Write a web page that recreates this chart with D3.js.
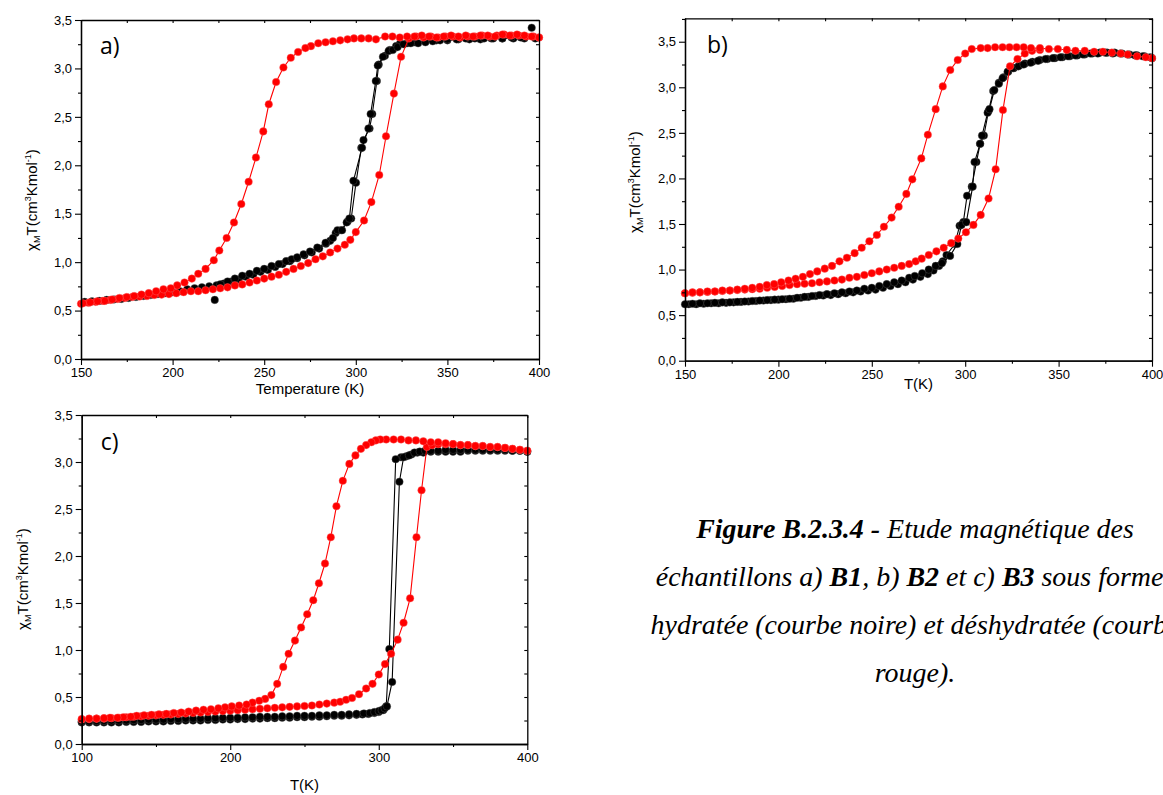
<!DOCTYPE html>
<html><head><meta charset="utf-8">
<script src="https://cdn.jsdelivr.net/npm/d3@7"></script>
<style>
body{margin:0;background:#fff;}
svg{display:block;}
</style></head>
<body>
<svg id="chart" width="1163" height="795"></svg>
<script>
// ---------- DATA (T in K, chiM*T in cm3 K mol-1) ----------
// Panel a) B1
const aBlackHeat = [[226,0.77],[230,0.80],[234,0.83],[238,0.86],[242,0.88],[246,0.91],[250,0.93],[254,0.96],[258,0.98],[262,1.01],[265,1.03],[268,1.05],[271.5,1.08],[275,1.11],[279,1.15],[283.5,1.20],[287.5,1.25],[290,1.33],[292.5,1.33],[295,1.41],[296.5,1.45],[298.7,1.84],[303.4,2.18],[306.9,2.38],[308.1,2.53],[310.9,2.87],[312,3.03],[314.8,3.12],[317.9,3.18],[320.2,3.19],[322.8,3.22],[326,3.25],[330,3.26],[334,3.26],[338,3.27],[342,3.28],[346,3.29],[350,3.30],[355,3.30],[360,3.31],[365,3.31],[370,3.31],[375,3.31],[380,3.31],[385,3.32],[390,3.32]];
const aBlackCool = [[398,3.31],[392,3.31],[386,3.31],[380,3.31],[374,3.31],[368,3.30],[362,3.30],[356,3.30],[350,3.29],[344,3.29],[338,3.28],[332,3.27],[328,3.26],[324.2,3.26],[322,3.23],[318.5,3.19],[315.9,3.13],[312.5,3.04],[311.5,2.87],[309,2.53],[307.5,2.38],[304.2,2.26],[303,2.18],[300.1,1.82],[297.5,1.45],[295.5,1.42],[292,1.33],[289,1.30],[286,1.22],[283.7,1.19],[280,1.14],[276,1.10],[272,1.07],[268,1.04],[264,1.01],[260,0.98],[256,0.95],[252,0.92],[248,0.90],[244,0.87],[240,0.85],[236,0.82],[232,0.80],[228,0.78],[224,0.76],[220,0.75],[216,0.74],[212,0.73],[208,0.72],[204,0.70],[200,0.69],[196,0.68],[192,0.67],[188,0.66],[184,0.65],[180,0.64],[176,0.63],[172,0.62],[168,0.615],[164,0.61],[160,0.60],[156,0.595],[152,0.59]];
const aBlackSingle = [[223,0.61],[396,3.42]];
const aRedHeat = [[150,0.57],[154,0.58],[158,0.59],[162,0.60],[166,0.61],[170,0.62],[174,0.63],[178,0.64],[182,0.645],[186,0.65],[190,0.66],[194,0.665],[198,0.67],[202,0.68],[206,0.69],[210,0.70],[214,0.70],[218,0.71],[222,0.72],[226,0.73],[230,0.74],[234,0.76],[238,0.77],[242,0.79],[246,0.81],[250,0.83],[254,0.85],[258,0.87],[262,0.90],[266,0.93],[270,0.96],[274,0.99],[278,1.03],[282,1.06],[286,1.10],[290,1.14],[294,1.18],[297,1.23],[300,1.31],[304.5,1.43],[308.5,1.62],[312.8,1.90],[316.5,2.30],[320.8,2.74],[324.7,3.12],[329,3.31],[333,3.33],[337,3.32],[341,3.33],[345,3.32],[349,3.33],[353,3.33],[357,3.32],[361,3.33],[365,3.33],[369,3.34],[373,3.33],[377,3.34],[381,3.35],[385,3.34],[389,3.34],[393,3.33],[397,3.33],[400,3.32]];
const aRedCool = [[400,3.32],[396,3.33],[392,3.34],[388,3.35],[384,3.34],[380,3.35],[376,3.33],[372,3.34],[368,3.34],[364,3.33],[360,3.34],[356,3.33],[352,3.34],[348,3.33],[344,3.32],[340,3.33],[336,3.34],[332,3.33],[328,3.33],[324,3.32],[320,3.33],[316,3.33],[311,3.30],[307,3.31],[303,3.31],[299,3.31],[295.5,3.30],[291.5,3.29],[287.5,3.28],[283.5,3.27],[279.5,3.26],[275.5,3.23],[272.5,3.21],[268.5,3.17],[264.5,3.11],[260.5,3.01],[256.5,2.86],[252.5,2.63],[249.5,2.35],[245.5,2.08],[241.5,1.83],[237.5,1.60],[233.5,1.41],[229.5,1.25],[225.5,1.12],[222.5,1.02],[218,0.93],[214,0.88],[210.5,0.83],[206.5,0.79],[202.5,0.76],[199,0.73],[195,0.72],[191,0.70],[187,0.68],[183,0.665],[179,0.65],[175,0.64],[171,0.63],[167,0.615],[163,0.60],[159,0.595],[155,0.585],[151,0.575]];

// Panel b) B2
const bBlackHeat = [[150,0.62],[154,0.625],[158,0.63],[162,0.63],[166,0.635],[170,0.64],[174,0.64],[178,0.645],[182,0.65],[186,0.655],[190,0.66],[194,0.665],[198,0.67],[202,0.675],[206,0.68],[210,0.69],[214,0.70],[218,0.71],[222,0.72],[226,0.73],[230,0.74],[234,0.75],[238,0.76],[242,0.77],[246,0.79],[250,0.80],[254,0.82],[258,0.84],[262,0.86],[266,0.88],[270,0.91],[273,0.93],[277,0.96],[280.5,1.00],[284.2,1.04],[287.5,1.07],[291.9,1.15],[295.8,1.28],[298,1.49],[300.6,1.52],[304,1.91],[305,2.18],[308,2.38],[309,2.47],[312,2.72],[313,2.76],[315.6,2.97],[318,3.04],[320,3.10],[322.7,3.17],[325.6,3.21],[328.5,3.23],[331.3,3.25],[335,3.27],[339,3.29],[343,3.31],[347,3.32],[351,3.33],[355,3.34],[359,3.35],[363,3.36],[367,3.37],[371,3.37],[375,3.38],[379,3.37],[383,3.37],[387,3.36],[391,3.35],[395,3.34],[399,3.33]];
const bBlackCool = [[400,3.32],[396,3.34],[392,3.35],[388,3.36],[384,3.37],[380,3.38],[376,3.38],[372,3.38],[368,3.37],[364,3.36],[360,3.35],[356,3.34],[352,3.33],[348,3.32],[344,3.31],[340,3.30],[336,3.28],[332,3.26],[329,3.24],[326,3.21],[323,3.17],[320.5,3.11],[318,3.05],[315,2.96],[312.5,2.74],[310,2.47],[308,2.38],[306,2.18],[303.5,1.91],[301,1.81],[299,1.52],[297,1.48],[294.5,1.28],[290,1.16],[288,1.09],[286,1.04],[283,0.99],[280,0.95],[276,0.92],[272,0.89],[268,0.86],[264,0.84],[260,0.82],[256,0.80],[252,0.78],[248,0.77],[244,0.76],[240,0.75],[236,0.74],[232,0.73],[228,0.72],[224,0.715],[220,0.71],[216,0.70],[212,0.69],[208,0.68],[204,0.675],[200,0.67],[196,0.665],[192,0.66],[188,0.655],[184,0.65],[180,0.645],[176,0.64],[172,0.635],[168,0.63],[164,0.63],[160,0.625],[156,0.62],[152,0.62]];
const bRedHeat = [[150,0.74],[154,0.745],[158,0.75],[162,0.755],[166,0.76],[170,0.765],[174,0.77],[178,0.775],[182,0.78],[186,0.785],[190,0.79],[194,0.80],[198,0.81],[202,0.82],[206,0.83],[210,0.84],[214,0.845],[218,0.85],[222,0.86],[226,0.87],[230,0.88],[234,0.89],[238,0.91],[242,0.92],[246,0.94],[250,0.96],[254,0.98],[258,1.00],[262,1.02],[266,1.04],[270,1.06],[273.5,1.09],[276.7,1.12],[280.5,1.16],[284.6,1.20],[288.5,1.24],[292.5,1.29],[296.3,1.34],[300.4,1.41],[304.4,1.49],[308.3,1.60],[312.5,1.78],[316.3,2.10],[320.2,2.75],[324,3.23],[328,3.31],[331.9,3.37],[335.8,3.40],[340,3.41]];
const bRedCool = [[400,3.32],[396.7,3.33],[392,3.34],[387,3.36],[383.3,3.37],[378.5,3.38],[373.7,3.39],[369,3.39],[364,3.40],[359,3.40],[354.4,3.41],[349.6,3.42],[344.8,3.42],[340,3.43],[335.2,3.43],[331.3,3.44],[327.5,3.44],[323.7,3.44],[320,3.44],[316,3.44],[312,3.43],[308.3,3.43],[303.5,3.42],[300,3.37],[296,3.30],[292,3.19],[288,3.01],[284.2,2.76],[280,2.48],[276.5,2.22],[271.7,1.99],[268.5,1.83],[264.4,1.69],[260.6,1.57],[256.5,1.47],[252.7,1.38],[248.7,1.31],[244.6,1.24],[240.8,1.18],[236.7,1.13],[232.7,1.09],[228.7,1.04],[224.8,1.01],[220.8,0.98],[216.9,0.95],[213.1,0.92],[209.2,0.90],[205.4,0.88],[201.5,0.86],[197.7,0.84],[193.8,0.83],[190,0.81],[186,0.80],[182,0.79],[178,0.78],[174,0.77],[170,0.77],[166,0.76],[162,0.76],[158,0.75],[154,0.75],[150,0.74]];

// Panel c) B3
const cBlackHeat = [[100,0.24],[105,0.24],[110,0.245],[115,0.245],[120,0.25],[125,0.25],[130,0.25],[135,0.255],[140,0.255],[145,0.26],[150,0.26],[155,0.26],[160,0.265],[165,0.265],[170,0.27],[175,0.27],[180,0.27],[185,0.275],[190,0.275],[195,0.28],[200,0.28],[205,0.28],[210,0.285],[215,0.285],[220,0.29],[225,0.29],[230,0.29],[235,0.295],[240,0.295],[245,0.30],[250,0.30],[255,0.30],[260,0.305],[265,0.305],[270,0.31],[275,0.31],[280,0.315],[285,0.32],[290,0.325],[294,0.33],[297,0.34],[300,0.35],[302,0.36],[304,0.38],[305.5,0.40],[309,0.66],[313.9,2.79],[316.7,3.05],[320.4,3.07],[324,3.10],[327.6,3.11],[331.2,3.12],[335,3.12],[340,3.12],[345,3.13],[350,3.13],[355,3.13],[360,3.13],[365,3.13],[370,3.13],[375,3.13],[380,3.13],[385,3.13],[390,3.12],[395,3.12],[400,3.11]];
const cBlackCool = [[400,3.11],[395,3.12],[390,3.12],[385,3.12],[380,3.12],[375,3.12],[370,3.12],[365,3.12],[360,3.12],[355,3.11],[350,3.11],[345,3.11],[340,3.11],[335,3.11],[330,3.10],[326,3.10],[322,3.08],[318.5,3.06],[315,3.05],[311.4,3.03],[307.1,1.01],[305,0.40],[303,0.36],[300,0.34],[297,0.33],[293,0.32],[289,0.315],[285,0.31],[280,0.305],[275,0.30],[270,0.30],[265,0.295],[260,0.29],[255,0.29],[250,0.285],[245,0.285],[240,0.28],[235,0.28],[230,0.275],[225,0.275],[220,0.27],[215,0.27],[210,0.265],[205,0.265],[200,0.26],[195,0.26],[190,0.255],[185,0.255],[180,0.25],[175,0.25],[170,0.25],[165,0.245],[160,0.245],[155,0.24],[150,0.24],[145,0.24],[140,0.235],[135,0.235],[130,0.235],[125,0.23],[120,0.23],[115,0.23],[110,0.23],[105,0.23],[100,0.23]];
const cRedHeat = [[100,0.26],[105,0.265],[110,0.27],[115,0.27],[120,0.275],[125,0.28],[130,0.285],[135,0.29],[140,0.295],[145,0.30],[150,0.305],[155,0.31],[160,0.315],[165,0.32],[170,0.325],[175,0.33],[180,0.335],[185,0.34],[190,0.345],[195,0.35],[200,0.355],[205,0.36],[210,0.365],[215,0.37],[220,0.375],[225,0.38],[230,0.385],[235,0.39],[240,0.395],[245,0.40],[250,0.405],[255,0.41],[260,0.42],[265,0.43],[270,0.44],[274,0.45],[278,0.47],[282,0.49],[286.7,0.53],[291.5,0.59],[295.8,0.64],[300,0.74],[304.2,0.85],[308.3,0.96],[312.7,1.11],[316.7,1.29],[321.1,1.55],[325.4,2.20],[328.8,2.70],[332.4,3.16],[336,3.18],[340,3.19],[345,3.19],[350,3.19],[355,3.18],[360,3.18],[365,3.17],[370,3.17],[375,3.16],[380,3.16],[385,3.15],[390,3.14],[395,3.13],[400,3.12]];
const cRedCool = [[400,3.12],[395,3.13],[390,3.14],[385,3.15],[380,3.16],[375,3.16],[370,3.17],[365,3.17],[360,3.18],[355,3.18],[350,3.19],[345,3.20],[340,3.21],[335,3.21],[330,3.22],[325,3.23],[320,3.23],[315,3.24],[310,3.24],[305,3.24],[301,3.24],[298,3.23],[295,3.21],[291.5,3.18],[288,3.14],[284.3,3.07],[280.2,2.98],[275.8,2.80],[271.5,2.53],[267.7,2.20],[263.8,1.92],[259.7,1.71],[255.9,1.53],[251.8,1.38],[247.7,1.24],[243.6,1.10],[239.3,0.96],[235.7,0.82],[231.6,0.64],[227.7,0.52],[223.5,0.48],[219.5,0.46],[215,0.44],[211,0.42],[206,0.41],[201,0.40],[196.5,0.39],[192,0.38],[187,0.37],[182,0.365],[177,0.355],[172,0.345],[167,0.335],[162,0.33],[157,0.32],[152,0.315],[147,0.31],[142,0.305],[137,0.30],[133,0.29],[128,0.285],[124,0.28],[119,0.28],[115,0.275],[110,0.27],[105,0.27],[100,0.265]];

// Tick values
const xTicksAB = [150,200,250,300,350,400];
const xMinorAB = [175,225,275,325,375];
const xTicksC = [100,200,300,400];
const xMinorC = [150,250,350];
const yTicks = [0,0.5,1,1.5,2,2.5,3,3.5];
const yMinor = [0.25,0.75,1.25,1.75,2.25,2.75,3.25];
const yMinorB = [0.25,0.75,1.25,1.75,2.25,2.75,3.25,3.75];

const panelLabels = ["a)","b)","c)"];
const xTitles = ["Temperature (K)","T(K)","T(K)"];

// ---------- DRAWING ----------
const svg = d3.select("#chart");
svg.append("rect").attr("width",1163).attr("height",795).attr("fill","#fff");
const SANS = "Liberation Sans";
const fmt = d => d3.format(".1f")(d).replace(".", ",");

function panel(cfg) {
  const g = svg.append("g");
  const x = d3.scaleLinear().domain(cfg.xd).range([cfg.l, cfg.r]);
  const y = d3.scaleLinear().domain(cfg.yd).range([cfg.b, cfg.t]);
  const line = d3.line().x(d => x(d[0])).y(d => y(d[1]));

  const drawSeries = (data, color, withLine) => {
    if (withLine) g.append("path").datum(data).attr("d", line)
      .attr("fill","none").attr("stroke", color).attr("stroke-width", 1.1);
    g.append("g").selectAll("circle").data(data).join("circle")
      .attr("cx", d => x(d[0])).attr("cy", d => y(d[1])).attr("r", 3.8)
      .attr("fill", color).attr("stroke", color === "#000" ? "#555" : "#ff6a6a").attr("stroke-width", 0.4);
  };
  cfg.black.forEach(s => drawSeries(s, "#000", true));
  if (cfg.blackSingle) drawSeries(cfg.blackSingle, "#000", false);
  cfg.red.forEach(s => drawSeries(s, "#ff0000", true));

  const ax = (gen, tr) => {
    const a = g.append("g").attr("transform", tr).call(gen);
    a.selectAll("path.domain").attr("stroke","#000").attr("stroke-width",1.3);
    a.selectAll(".tick line").attr("stroke","#000").attr("stroke-width",1.1);
    a.selectAll("text").attr("font-family", SANS).attr("font-size", 13).attr("fill","#000");
    return a;
  };
  ax(d3.axisBottom(x).tickValues(cfg.xMajor).tickSize(6).tickSizeOuter(0).tickPadding(3).tickFormat(d => d), `translate(0,${cfg.b})`);
  ax(d3.axisBottom(x).tickValues(cfg.xMinor).tickSize(3).tickSizeOuter(0).tickFormat(""), `translate(0,${cfg.b})`);
  ax(d3.axisTop(x).tickValues(cfg.xMajor.concat(cfg.xMinor)).tickSize(-3).tickSizeOuter(0).tickFormat(""), `translate(0,${cfg.t})`);
  ax(d3.axisLeft(y).tickValues(yTicks).tickSize(6).tickSizeOuter(0).tickPadding(3).tickFormat(fmt), `translate(${cfg.l},0)`);
  ax(d3.axisLeft(y).tickValues(cfg.yMinor).tickSize(3).tickSizeOuter(0).tickFormat(""), `translate(${cfg.l},0)`);
  ax(d3.axisRight(y).tickValues(yTicks.concat(cfg.yMinor)).tickSize(-3).tickSizeOuter(0).tickFormat(""), `translate(${cfg.r},0)`);

  g.append("text").attr("x", cfg.l + cfg.labDx).attr("y", cfg.t + cfg.labDy)
    .attr("font-family", "Open Sans").attr("font-size", 23).text(cfg.label);

  g.append("text").attr("x", (cfg.l + cfg.r) / 2).attr("y", cfg.b + cfg.xtDy)
    .attr("text-anchor","middle").attr("font-family", SANS).attr("font-size", 15).text(cfg.xTitle);

  const yt = g.append("text").attr("transform", `translate(${cfg.ytx},${cfg.yty}) rotate(-90)`)
    .attr("text-anchor","middle").attr("font-family", SANS).attr("font-size", 15);
  yt.append("tspan").text("χ");
  yt.append("tspan").attr("font-size", 9).attr("dy", 3).text("M");
  yt.append("tspan").attr("dy", -3).text("T(cm");
  yt.append("tspan").attr("font-size", 9).attr("dy", -6).text("3");
  yt.append("tspan").attr("dy", 6).text("Kmol");
  yt.append("tspan").attr("font-size", 9).attr("dy", -6).text("-1");
  yt.append("tspan").attr("dy", 6).text(")");
}

panel({l:81, r:539, t:20, b:359, xd:[150,400], yd:[0,3.5], xMajor:xTicksAB, xMinor:xMinorAB, yMinor:yMinor,
  black:[aBlackCool, aBlackHeat], blackSingle:aBlackSingle, red:[aRedHeat, aRedCool],
  label:panelLabels[0], labDx:19, labDy:34, xTitle:xTitles[0], xtDy:35, ytx:37, yty:200});
panel({l:685, r:1152, t:18.3, b:360.7, xd:[150,400], yd:[0,3.757], xMajor:xTicksAB, xMinor:xMinorAB, yMinor:yMinorB,
  black:[bBlackCool, bBlackHeat], red:[bRedHeat, bRedCool],
  label:panelLabels[1], labDx:22, labDy:35, xTitle:xTitles[1], xtDy:28, ytx:640, yty:182});
panel({l:81.7, r:527.3, t:415, b:744, xd:[100,400], yd:[0,3.5], xMajor:xTicksC, xMinor:xMinorC, yMinor:yMinor,
  black:[cBlackCool, cBlackHeat], red:[cRedHeat, cRedCool],
  label:panelLabels[2], labDx:19, labDy:35, xTitle:xTitles[2], xtDy:46, ytx:28, yty:579});

// ---------- CAPTION ----------
const SERIF = "Liberation Serif";
const captionLines = [
  [["Figure B.2.3.4 -", true], [" Etude magnétique des", false]],
  [["échantillons a) ", false], ["B1", true], [", b) ", false], ["B2", true], [" et c) ", false], ["B3", true], [" sous formes", false]],
  [["hydratée (courbe noire) et déshydratée (courbe", false]],
  [["rouge).", false]]
];
const capTexts = captionLines.map((ln, i) => {
  const t = svg.append("text").attr("x", 915).attr("y", 538 + i * 48)
    .attr("text-anchor","middle").attr("font-family", SERIF).attr("font-size", 22).attr("font-style","italic");
  ln.forEach(([s, b]) => t.append("tspan").attr("font-weight", b ? "bold" : "normal").text(s));
  return t;
});
// size the caption so its first line spans about the reference width
const w0 = capTexts[0].node().getComputedTextLength();
if (w0 > 0) {
  const fs = 22 * 438 / w0;
  capTexts.forEach(t => t.attr("font-size", fs));
}
</script>
</body></html>
